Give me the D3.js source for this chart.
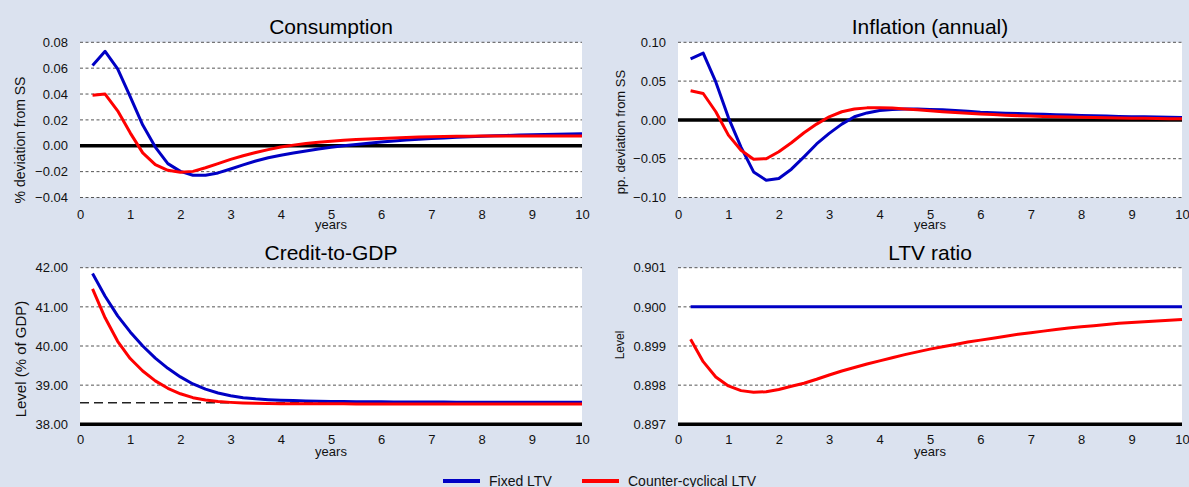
<!DOCTYPE html>
<html>
<head>
<meta charset="utf-8">
<script src="https://cdn.jsdelivr.net/npm/d3@7"></script>
<style>
  body { margin: 0; background: #dbe2ef; }
  svg { display: block; font-family: "Liberation Sans", Arial, sans-serif; }
</style>
</head>
<body>
<div id="wrapper"></div>
<script>
// quarterly horizon, in years
const quarters = [0.25, 0.5, 0.75, 1, 1.25, 1.5, 1.75, 2, 2.25, 2.5, 2.75, 3, 3.25, 3.5, 3.75, 4,
  4.25, 4.5, 4.75, 5, 5.25, 5.5, 5.75, 6, 6.25, 6.5, 6.75, 7, 7.25, 7.5, 7.75, 8,
  8.25, 8.5, 8.75, 9, 9.25, 9.5, 9.75, 10]

const consFixed = [0.062, 0.073, 0.0595, 0.038, 0.016, -0.001, -0.0138, -0.0198, -0.0228, -0.0228, -0.021, -0.018,
  -0.0148, -0.0118, -0.0093, -0.0073, -0.0056, -0.004, -0.0025, -0.0012, 0.0, 0.001, 0.002, 0.0029,
  0.0037, 0.0044, 0.005, 0.0056, 0.0061, 0.0066, 0.007, 0.0074, 0.0077, 0.008, 0.0083, 0.0085,
  0.0087, 0.0089, 0.0091, 0.0093]
const consCC = [0.039, 0.040, 0.027, 0.010, -0.0055, -0.0146, -0.019, -0.0205, -0.0198, -0.017, -0.0138, -0.0105,
  -0.0077, -0.0052, -0.003, -0.001, 0.0005, 0.0017, 0.0027, 0.0035, 0.0042, 0.0048, 0.0053, 0.0057,
  0.0061, 0.0064, 0.0067, 0.0069, 0.0071, 0.0073, 0.0074, 0.0075, 0.0076, 0.0076, 0.0076, 0.0076,
  0.0076, 0.0076, 0.0075, 0.0075]

const inflFixed = [0.0785, 0.086, 0.049, 0.003, -0.035, -0.067, -0.0777, -0.0755, -0.0635, -0.0476, -0.031, -0.0174,
  -0.0054, 0.004, 0.009, 0.0122, 0.0135, 0.014, 0.014, 0.0135, 0.013, 0.012, 0.011, 0.0098,
  0.0092, 0.0087, 0.0082, 0.0077, 0.0072, 0.0067, 0.0062, 0.0057, 0.0053, 0.0049, 0.0045, 0.0042,
  0.0039, 0.0036, 0.0033, 0.003]
const inflCC = [0.0375, 0.034, 0.0105, -0.0196, -0.039, -0.0506, -0.050, -0.041, -0.0295, -0.0166, -0.0054, 0.004,
  0.0105, 0.014, 0.0155, 0.0158, 0.0152, 0.0142, 0.013, 0.0118, 0.0106, 0.0095, 0.0085, 0.0076,
  0.0068, 0.0061, 0.0055, 0.005, 0.0045, 0.0041, 0.0037, 0.0034, 0.0031, 0.0028, 0.0025, 0.0022,
  0.002, 0.0018, 0.0016, 0.0015]

const creditFixed = [41.85, 41.27, 40.77, 40.36, 40.0, 39.69, 39.43, 39.21, 39.03, 38.9, 38.8, 38.73,
  38.68, 38.65, 38.63, 38.615, 38.605, 38.597, 38.59, 38.585, 38.58, 38.577, 38.575, 38.573,
  38.571, 38.57, 38.569, 38.568, 38.567, 38.566, 38.565, 38.565, 38.564, 38.564, 38.563, 38.563,
  38.562, 38.562, 38.562, 38.562]
const creditCC = [41.46, 40.72, 40.12, 39.68, 39.36, 39.11, 38.92, 38.78, 38.68, 38.62, 38.58, 38.56,
  38.545, 38.535, 38.53, 38.527, 38.525, 38.524, 38.523, 38.522, 38.522, 38.521, 38.521, 38.52,
  38.52, 38.52, 38.52, 38.52, 38.52, 38.52, 38.52, 38.52, 38.52, 38.52, 38.52, 38.52,
  38.52, 38.52, 38.52, 38.52]
const creditSteady = 38.55

const ltvFixed = [0.9, 0.9, 0.9, 0.9, 0.9, 0.9, 0.9, 0.9, 0.9, 0.9, 0.9, 0.9, 0.9, 0.9, 0.9, 0.9,
  0.9, 0.9, 0.9, 0.9, 0.9, 0.9, 0.9, 0.9, 0.9, 0.9, 0.9, 0.9, 0.9, 0.9, 0.9, 0.9,
  0.9, 0.9, 0.9, 0.9, 0.9, 0.9, 0.9, 0.9]
const ltvCC = [0.89917, 0.8986, 0.89821, 0.89798, 0.89786, 0.89782, 0.89783, 0.89789, 0.89797, 0.89805, 0.89815, 0.89826,
  0.89836, 0.89845, 0.89854, 0.89862, 0.8987, 0.89878, 0.89885, 0.89892, 0.89898, 0.89904, 0.8991, 0.89915,
  0.8992, 0.89925, 0.8993, 0.89934, 0.89938, 0.89942, 0.89946, 0.89949, 0.89952, 0.89955, 0.89958, 0.8996,
  0.89962, 0.89964, 0.89966, 0.89968]

const xTicks = [0, 1, 2, 3, 4, 5, 6, 7, 8, 9, 10]
const consTicks = [-0.04, -0.02, 0, 0.02, 0.04, 0.06, 0.08]
const inflTicks = [-0.1, -0.05, 0, 0.05, 0.1]
const creditTicks = [38, 39, 40, 41, 42]
const ltvTicks = [0.897, 0.898, 0.899, 0.9, 0.901]

const seriesNames = ["Fixed LTV", "Counter-cyclical LTV"]
const colors = ["#0000c4", "#ff0000"]

const width = 1189
const height = 487

const panels = [
  { title: "Consumption", ylabel: "% deviation from SS", ylabelSize: 14, ylabelY: 140, ylabelX: 20,
    left: 80, right: 582, top: 42.3, bottom: 197.5, ticks: consTicks, fmt: d3.format(".2f"),
    series: [consFixed, consCC], base: 0, xPad: 21.8, yearsY: 229 },
  { title: "Inflation (annual)", ylabel: "pp. deviation from SS", ylabelSize: 13, ylabelY: 132, ylabelX: 620,
    left: 678, right: 1182, top: 42.3, bottom: 197.5, ticks: inflTicks, fmt: d3.format(".2f"),
    series: [inflFixed, inflCC], base: 0, xPad: 21.8, yearsY: 229 },
  { title: "Credit-to-GDP", ylabel: "Level (% of GDP)", ylabelSize: 15, ylabelY: 359, ylabelX: 20,
    left: 80, right: 582, top: 267.7, bottom: 424.3, ticks: creditTicks, fmt: d3.format(".2f"),
    series: [creditFixed, creditCC], base: 38, steady: creditSteady, xPad: 20, yearsY: 455.5 },
  { title: "LTV ratio", ylabel: "Level", ylabelSize: 12, ylabelY: 345, ylabelX: 620,
    left: 678, right: 1182, top: 267.7, bottom: 424.3, ticks: ltvTicks, fmt: d3.format(".3f"),
    series: [ltvFixed, ltvCC], base: 0.897, xPad: 20, yearsY: 455.5 },
]

const svg = d3.select("#wrapper")
  .append("svg")
  .attr("width", width)
  .attr("height", height)

svg.append("rect")
  .attr("width", width)
  .attr("height", height)
  .attr("fill", "#dbe2ef")

panels.forEach(p => {
  const xScale = d3.scaleLinear().domain([0, 10]).range([p.left, p.right])
  const yScale = d3.scaleLinear().domain(d3.extent(p.ticks)).range([p.bottom, p.top])

  const g = svg.append("g")

  // white plot area
  g.append("rect")
    .attr("x", p.left)
    .attr("y", p.top)
    .attr("width", p.right - p.left)
    .attr("height", p.bottom - p.top)
    .attr("fill", "#ffffff")

  // dashed gridlines
  g.append("g")
    .selectAll("line")
    .data(p.ticks.filter(t => t !== p.base))
    .join("line")
    .attr("x1", p.left)
    .attr("x2", p.right)
    .attr("y1", d => yScale(d))
    .attr("y2", d => yScale(d))
    .attr("stroke", "#555")
    .attr("stroke-width", 1)
    .attr("stroke-dasharray", "3,2.5")

  // steady state line (credit only)
  if (p.steady !== undefined) {
    g.append("line")
      .attr("x1", p.left)
      .attr("x2", p.right)
      .attr("y1", yScale(p.steady))
      .attr("y2", yScale(p.steady))
      .attr("stroke", "#222")
      .attr("stroke-width", 1.3)
      .attr("stroke-dasharray", "9,5")
  }

  // zero / base axis line
  g.append("line")
    .attr("x1", p.left)
    .attr("x2", p.right)
    .attr("y1", yScale(p.base))
    .attr("y2", yScale(p.base))
    .attr("stroke", "#000")
    .attr("stroke-width", 3.5)

  // y axis labels
  const yAxis = g.append("g")
    .attr("transform", `translate(${p.left},0)`)
    .call(d3.axisLeft(yScale).tickValues(p.ticks).tickFormat(p.fmt).tickSize(0).tickPadding(12))
  yAxis.select(".domain").remove()
  yAxis.selectAll("text").attr("font-size", 13).attr("fill", "#111")
    .style("font-family", "'Liberation Sans', Arial, sans-serif")

  // x axis labels
  const xAxis = g.append("g")
    .attr("transform", `translate(0,${p.bottom})`)
    .call(d3.axisBottom(xScale).tickValues(xTicks).tickFormat(d3.format("d")).tickSize(0).tickPadding(p.xPad - 9.2))
  xAxis.select(".domain").remove()
  xAxis.selectAll("text").attr("font-size", 13).attr("fill", "#111")
    .style("font-family", "'Liberation Sans', Arial, sans-serif")

  g.append("text")
    .attr("x", xScale(5))
    .attr("y", p.yearsY)
    .attr("text-anchor", "middle")
    .attr("font-size", 13)
    .attr("fill", "#111")
    .text("years")

  // title
  g.append("text")
    .attr("x", (p.left + p.right) / 2)
    .attr("y", p.top - 8)
    .attr("text-anchor", "middle")
    .attr("font-size", 21)
    .attr("fill", "#000")
    .text(p.title)

  // y axis title
  g.append("text")
    .attr("transform", `translate(${p.ylabelX},${p.ylabelY}) rotate(-90)`)
    .attr("text-anchor", "middle")
    .attr("dominant-baseline", "central")
    .attr("font-size", p.ylabelSize)
    .attr("fill", "#111")
    .text(p.ylabel)

  // series lines
  const line = d3.line()
    .x((d, i) => xScale(quarters[i]))
    .y(d => yScale(d))

  p.series.forEach((s, i) => {
    g.append("path")
      .datum(s)
      .attr("d", line)
      .attr("fill", "none")
      .attr("stroke", colors[i])
      .attr("stroke-width", 3)
      .attr("stroke-linejoin", "round")
  })
})

// legend
const legendX = [443, 582]
const legend = svg.append("g")
seriesNames.forEach((name, i) => {
  legend.append("line")
    .attr("x1", legendX[i])
    .attr("x2", legendX[i] + 37)
    .attr("y1", 481)
    .attr("y2", 481)
    .attr("stroke", colors[i])
    .attr("stroke-width", 4)
  legend.append("text")
    .attr("x", legendX[i] + 46)
    .attr("y", 485.5)
    .attr("font-size", 14)
    .attr("fill", "#111")
    .text(name)
})
</script>
</body>
</html>
